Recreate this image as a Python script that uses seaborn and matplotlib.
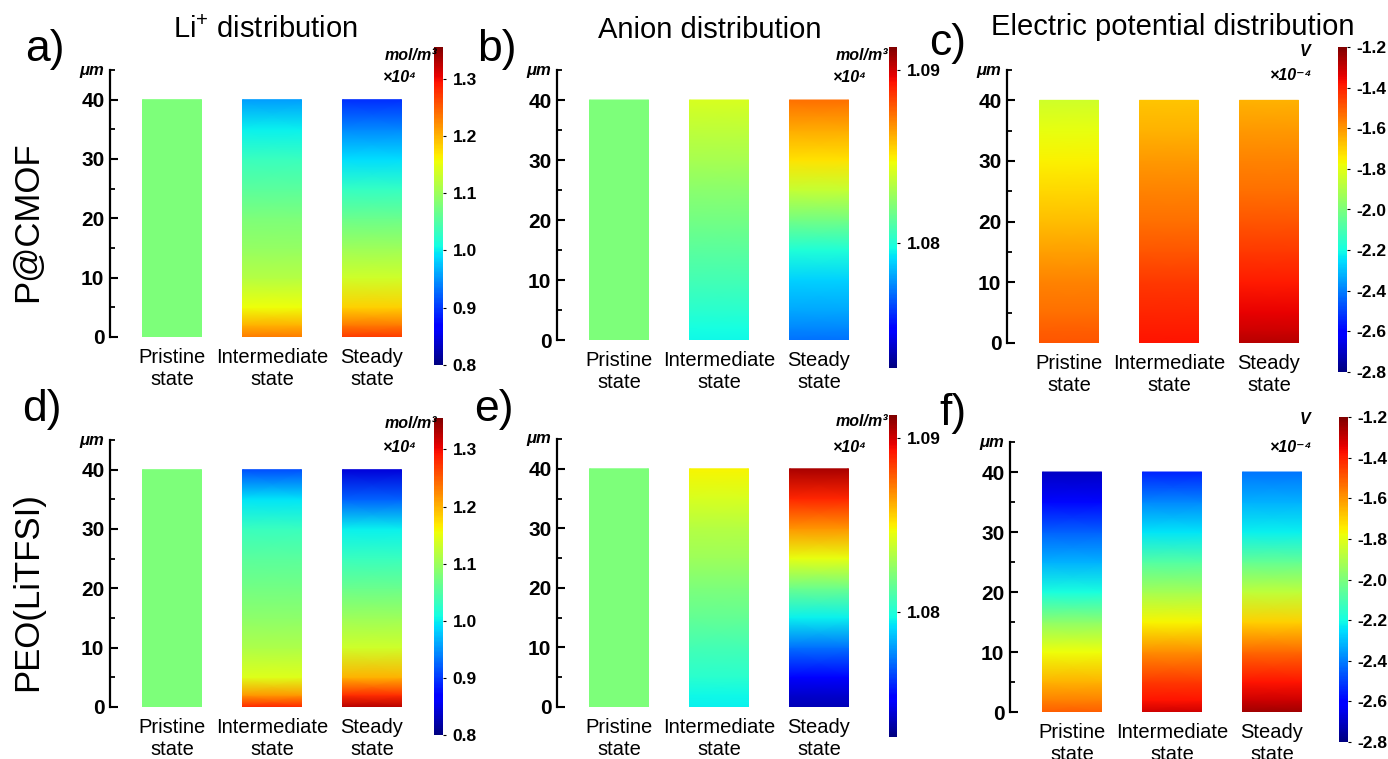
import numpy as np
import matplotlib
matplotlib.use("Agg")
import matplotlib.pyplot as plt
import seaborn as sns
from matplotlib.cm import ScalarMappable
from matplotlib.colors import Normalize

# ---------------- data ----------------
heights = [0, 2, 5, 10, 15, 20, 25, 30, 35, 40]          # µm
states = ["Pristine\nstate", "Intermediate\nstate", "Steady\nstate"]
titles = ["Li$^{+}$ distribution", "Anion distribution", "Electric potential distribution"]
rows = ["P@CMOF", "PEO(LiTFSI)"]
letters = ["a)", "b)", "c)", "d)", "e)", "f)"]

# Li+ concentration (x10^4 mol/m3)
li_pcmof_pristine = [1.078, 1.078, 1.078, 1.078, 1.078, 1.078, 1.078, 1.078, 1.078, 1.078]
li_pcmof_inter = [1.233, 1.200, 1.155, 1.116, 1.094, 1.078, 1.055, 1.033, 1.000, 0.955]
li_pcmof_steady = [1.272, 1.233, 1.183, 1.133, 1.100, 1.066, 1.028, 0.989, 0.944, 0.894]
li_peo_pristine = [1.078, 1.078, 1.078, 1.078, 1.078, 1.078, 1.078, 1.078, 1.078, 1.078]
li_peo_inter = [1.283, 1.216, 1.144, 1.111, 1.089, 1.072, 1.055, 1.033, 0.994, 0.911]
li_peo_steady = [1.327, 1.277, 1.200, 1.133, 1.100, 1.066, 1.033, 1.000, 0.922, 0.844]

# Anion concentration (x10^4 mol/m3)
an_pcmof_pristine = [1.0821, 1.0821, 1.0821, 1.0821, 1.0821, 1.0821, 1.0821, 1.0821, 1.0821, 1.0821]
an_pcmof_inter = [1.0796, 1.0798, 1.0802, 1.0808, 1.0813, 1.0819, 1.0824, 1.0830, 1.0835, 1.0841]
an_pcmof_steady = [1.0772, 1.0776, 1.0782, 1.0789, 1.0800, 1.0819, 1.0837, 1.0852, 1.0863, 1.0874]
an_peo_pristine = [1.0821, 1.0821, 1.0821, 1.0821, 1.0821, 1.0821, 1.0821, 1.0821, 1.0821, 1.0821]
an_peo_inter = [1.0795, 1.0796, 1.0802, 1.0808, 1.0815, 1.0821, 1.0828, 1.0833, 1.0841, 1.0848]
an_peo_steady = [1.0737, 1.0741, 1.0750, 1.0772, 1.0795, 1.0817, 1.0845, 1.0867, 1.0889, 1.0906]

# Electric potential (x10^-4 V)
ep_pcmof_pristine = [-1.488, -1.504, -1.536, -1.568, -1.616, -1.664, -1.712, -1.752, -1.792, -1.840]
ep_pcmof_inter = [-1.376, -1.392, -1.408, -1.440, -1.488, -1.536, -1.568, -1.600, -1.648, -1.680]
ep_pcmof_steady = [-1.280, -1.312, -1.344, -1.392, -1.440, -1.488, -1.536, -1.568, -1.600, -1.648]
ep_peo_pristine = [-1.504, -1.568, -1.648, -1.776, -1.968, -2.192, -2.320, -2.448, -2.592, -2.704]
ep_peo_inter = [-1.312, -1.376, -1.440, -1.584, -1.760, -1.920, -2.080, -2.240, -2.384, -2.544]
ep_peo_steady = [-1.248, -1.312, -1.376, -1.520, -1.696, -1.872, -2.048, -2.224, -2.320, -2.416]

li_range = [0.8, 1.355]
an_range = [1.0728, 1.0913]
ep_range = [-2.8, -1.2]
li_ticks = [0.8, 0.9, 1.0, 1.1, 1.2, 1.3]
an_ticks = [1.08, 1.09]
ep_ticks = [-2.8, -2.6, -2.4, -2.2, -2.0, -1.8, -1.6, -1.4, -1.2]

# ---------------- style ----------------
sns.set_style("ticks")
plt.rcParams['font.family'] = ['Liberation Sans', 'DejaVu Sans']
plt.rcParams['mathtext.fontset'] = 'custom'
plt.rcParams['mathtext.rm'] = 'Liberation Sans'
plt.rcParams['mathtext.it'] = 'Liberation Sans:italic'
plt.rcParams['mathtext.bf'] = 'Liberation Sans:bold'
for key in ['text.color', 'axes.labelcolor', 'xtick.color', 'ytick.color', 'axes.edgecolor']:
    plt.rcParams[key] = 'black'

W, H = 1388, 759
fig = plt.figure(figsize=(W / 100, H / 100), dpi=100)
cmap = plt.get_cmap('jet')


def px_axes(left, bottom_px, width, height):
    return fig.add_axes([left / W, (H - bottom_px) / H, width / W, height / H])


panels = [
    dict(data=[li_pcmof_pristine, li_pcmof_inter, li_pcmof_steady], rng=li_range, ticks=li_ticks, fmt="%.1f",
         ax=(110, 337, 312, 267), cb=(434, 365, 9, 318), unit="mol/m\u00b3", mult="\u00d710\u2074",
         unit_xy=(437, 55), mult_xy=(416, 78), letter_xy=(45, 49)),
    dict(data=[an_pcmof_pristine, an_pcmof_inter, an_pcmof_steady], rng=an_range, ticks=an_ticks, fmt="%.2f",
         ax=(557, 340, 312, 270), cb=(889, 368, 8, 321), unit="mol/m\u00b3", mult="\u00d710\u2074",
         unit_xy=(888, 55), mult_xy=(866, 78), letter_xy=(497, 49)),
    dict(data=[ep_pcmof_pristine, ep_pcmof_inter, ep_pcmof_steady], rng=ep_range, ticks=ep_ticks, fmt="%.1f",
         ax=(1007, 343, 312, 273), cb=(1338, 372, 9, 325), unit="V", mult="\u00d710\u207b\u2074",
         unit_xy=(1310, 52), mult_xy=(1312, 76), letter_xy=(948, 43)),
    dict(data=[li_peo_pristine, li_peo_inter, li_peo_steady], rng=li_range, ticks=li_ticks, fmt="%.1f",
         ax=(110, 707, 312, 267), cb=(434, 735, 9, 317), unit="mol/m\u00b3", mult="\u00d710\u2074",
         unit_xy=(437, 423), mult_xy=(416, 448), letter_xy=(42, 410)),
    dict(data=[an_peo_pristine, an_peo_inter, an_peo_steady], rng=an_range, ticks=an_ticks, fmt="%.2f",
         ax=(557, 707, 312, 268), cb=(889, 737, 8, 322), unit="mol/m\u00b3", mult="\u00d710\u2074",
         unit_xy=(888, 422), mult_xy=(866, 447), letter_xy=(494, 410)),
    dict(data=[ep_peo_pristine, ep_peo_inter, ep_peo_steady], rng=ep_range, ticks=ep_ticks, fmt="%.1f",
         ax=(1010, 712, 312, 270), cb=(1339, 742, 9, 325), unit="V", mult="\u00d710\u207b\u2074",
         unit_xy=(1310, 420), mult_xy=(1312, 447), letter_xy=(953, 414)),
]

bar_w = 0.59
for i, p in enumerate(panels):
    l, b, w, h = p["ax"]
    ax = px_axes(l, b, w, h)
    norm = Normalize(vmin=p["rng"][0], vmax=p["rng"][1])
    for k, vals in enumerate(p["data"]):
        X, Y = np.meshgrid([k - bar_w / 2, k + bar_w / 2], heights)
        C = np.column_stack([vals, vals])
        ax.pcolormesh(X, Y, C, cmap=cmap, norm=norm, shading='gouraud')
    ax.set_xlim(-0.62, 2.5)
    ax.set_ylim(0, 45)
    ax.set_facecolor('none')
    sns.despine(ax=ax, bottom=True)
    ax.spines['left'].set_linewidth(1.6)
    ax.set_xticks([0, 1, 2])
    ax.set_xticklabels(states, fontsize=14.5, linespacing=1.2)
    ax.tick_params(axis='x', length=0, pad=8)
    ax.set_yticks([0, 10, 20, 30, 40])
    ax.set_yticks([5, 15, 25, 35, 45], minor=True)
    ax.tick_params(axis='y', which='major', direction='in', length=6, width=1.5, labelsize=15, pad=4)
    ax.tick_params(axis='y', which='minor', direction='in', length=3.5, width=1.3)
    for t in ax.get_yticklabels():
        t.set_fontweight('bold')
    ax.grid(False)
    # µm label
    fig.text((l - 6) / W, (H - (b - h)) / H, "\u03bcm", ha='right', va='center',
             fontsize=12, fontweight='bold', fontstyle='italic')

    # colorbar
    cl, cbm, cw, chh = p["cb"]
    cax = px_axes(cl, cbm, cw, chh)
    sm = ScalarMappable(norm=norm, cmap=cmap)
    cbar = fig.colorbar(sm, cax=cax, ticks=p["ticks"], format=p["fmt"])
    cbar.outline.set_visible(False)
    cax.tick_params(length=2, width=0.8, labelsize=12.5, pad=5)
    for t in cax.get_yticklabels():
        t.set_fontweight('bold')

    # unit text
    fig.text(p["unit_xy"][0] / W, (H - p["unit_xy"][1]) / H, p["unit"], ha='right', va='center',
             fontsize=11.5, fontweight='bold', fontstyle='italic')
    fig.text(p["mult_xy"][0] / W, (H - p["mult_xy"][1]) / H, p["mult"], ha='right', va='center',
             fontsize=11.5, fontweight='bold', fontstyle='italic')
    # letter
    fig.text(p["letter_xy"][0] / W, (H - p["letter_xy"][1]) / H, letters[i], ha='center', va='center',
             fontsize=32)

# column titles
for title, cx, cy in zip(titles, [265, 710, 1173], [30, 30, 27]):
    fig.text(cx / W, (H - cy) / H, title, ha='center', va='center', fontsize=21)

# row labels
for lab, cy in zip(rows, [222, 592]):
    fig.text(28 / W, (H - cy) / H, lab, ha='center', va='center', rotation=90, fontsize=25)

fig.savefig("out.png", dpi=100)
